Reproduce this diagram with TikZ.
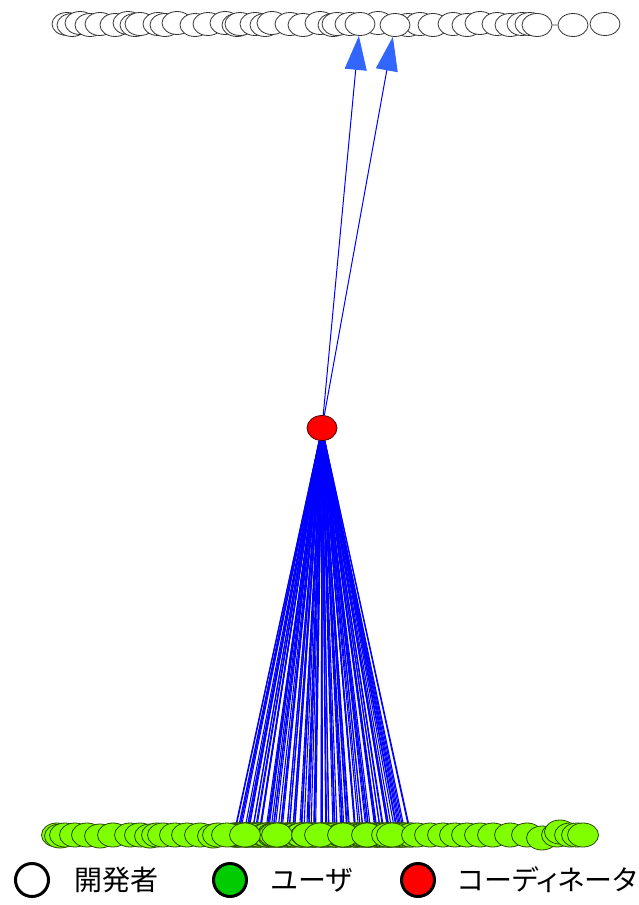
\documentclass[tikz,border=0pt]{standalone}
\usepackage{fontspec}
\newfontfamily\jpfont[RawFeature=+palt]{Noto Sans CJK JP}
\usetikzlibrary{arrows.meta,backgrounds,shapes.geometric}
\definecolor{devline}{HTML}{333333}
\definecolor{devedge}{HTML}{999999}
\definecolor{usergreen}{HTML}{80FF00}
\definecolor{userline}{HTML}{2A4A00}
\definecolor{legendgreen}{HTML}{00CC00}
\definecolor{edgeblue}{HTML}{0000FF}
\definecolor{tipblue}{HTML}{3366FF}
\tikzset{
  dev/.style={ellipse, draw=devline, fill=white, line width=0.8pt, minimum width=30pt, minimum height=23pt, inner sep=0pt},
  usr/.style={ellipse, draw=userline, fill=usergreen, line width=0.8pt, minimum width=31pt, minimum height=24pt, inner sep=0pt},
  coord/.style={ellipse, draw=black!70!red, fill=red, line width=0.8pt, minimum width=30pt, minimum height=25pt, inner sep=0pt},
  uedge/.style={draw=edgeblue, line width=1.1pt},
  upedge/.style={draw=edgeblue, line width=1pt, -{Triangle[length=34pt,width=22pt,color=tipblue]}},
  devlink/.style={draw=devedge, line width=1.3pt},
  legcirc/.style={circle, draw=black, line width=3pt, minimum size=33pt, inner sep=0pt},
  legtext/.style={anchor=west, inner sep=0pt, font=\jpfont\fontsize{28}{28}\selectfont}
}
\begin{document}
\begin{tikzpicture}[x=1pt,y=-1pt]
\useasboundingbox (0,0) rectangle (639,905);
% developers (top row)
\foreach \x/\y [count=\k] in {67/24,72/25,80/23,90/25,100/24,115/25,128/23,135/25,140/24,158/24,165/25,177/23,195/25,208/24,225/23,237/25,240/24,255/24,265/25,272/23,290/24,303/25,320/23,333/25,337/24,350/24,378/23,408/25,420/24,433/25,453/24,467/25,480/23,497/24,510/25,522/24,530/24,537/25}
  \node[dev] (t\k) at (\x,\y) {};
\node[dev] (ta) at (360,24) {};
\node[dev] (tb) at (395,25) {};
\node[dev] (tc) at (573,25) {};
\node[dev] (td) at (605,24) {};
\begin{pgfonlayer}{background}
  \draw[devlink] (t1) -- (tc);
\end{pgfonlayer}
% users (bottom row), dense part linked to the coordinator
\foreach \i in {0,...,109}
  \node[usr] (d\i) at ({233+1.62*\i+2.2*sin(\i*137)+1.3*cos(\i*53)},835) {};
\foreach \x/\y [count=\k] in {57/835,60/836,65/835,75/835,87/835,100/836,113/835,130/835,140/835,150/836,157/835,163/835,175/835,187/835,200/835,213/836,218/835,227/835,245/835,277/835,307/835,320/835,343/835,367/835,387/835,392/835,417/835,430/835,443/835,455/835,467/835,480/835,493/835,510/835,527/835,542/838,557/835,560/832,570/835,577/835,583/835}
  \node[usr] (u\k) at (\x,\y) {};
% coordinator
\node[coord] (r) at (322,428) {};
\begin{pgfonlayer}{background}
  \foreach \i in {0,...,109}
    \draw[uedge] (r) -- (d\i);
\end{pgfonlayer}
\draw[upedge] (r) -- (ta);
\draw[upedge] (r) -- (tb);
% legend
\node[legcirc, fill=white] (l1) at (32,880) {};
\node[legtext] (l1t) at (74,880) {開発者};
\node[legcirc, fill=legendgreen] (l2) at (230,880) {};
\node[legtext] (l2t) at (271,880) {ユーザ};
\node[legcirc, fill=red] (l3) at (418,880) {};
\node[legtext] (l3t) at (458,880) {コーディネータ};
\end{tikzpicture}
\end{document}
